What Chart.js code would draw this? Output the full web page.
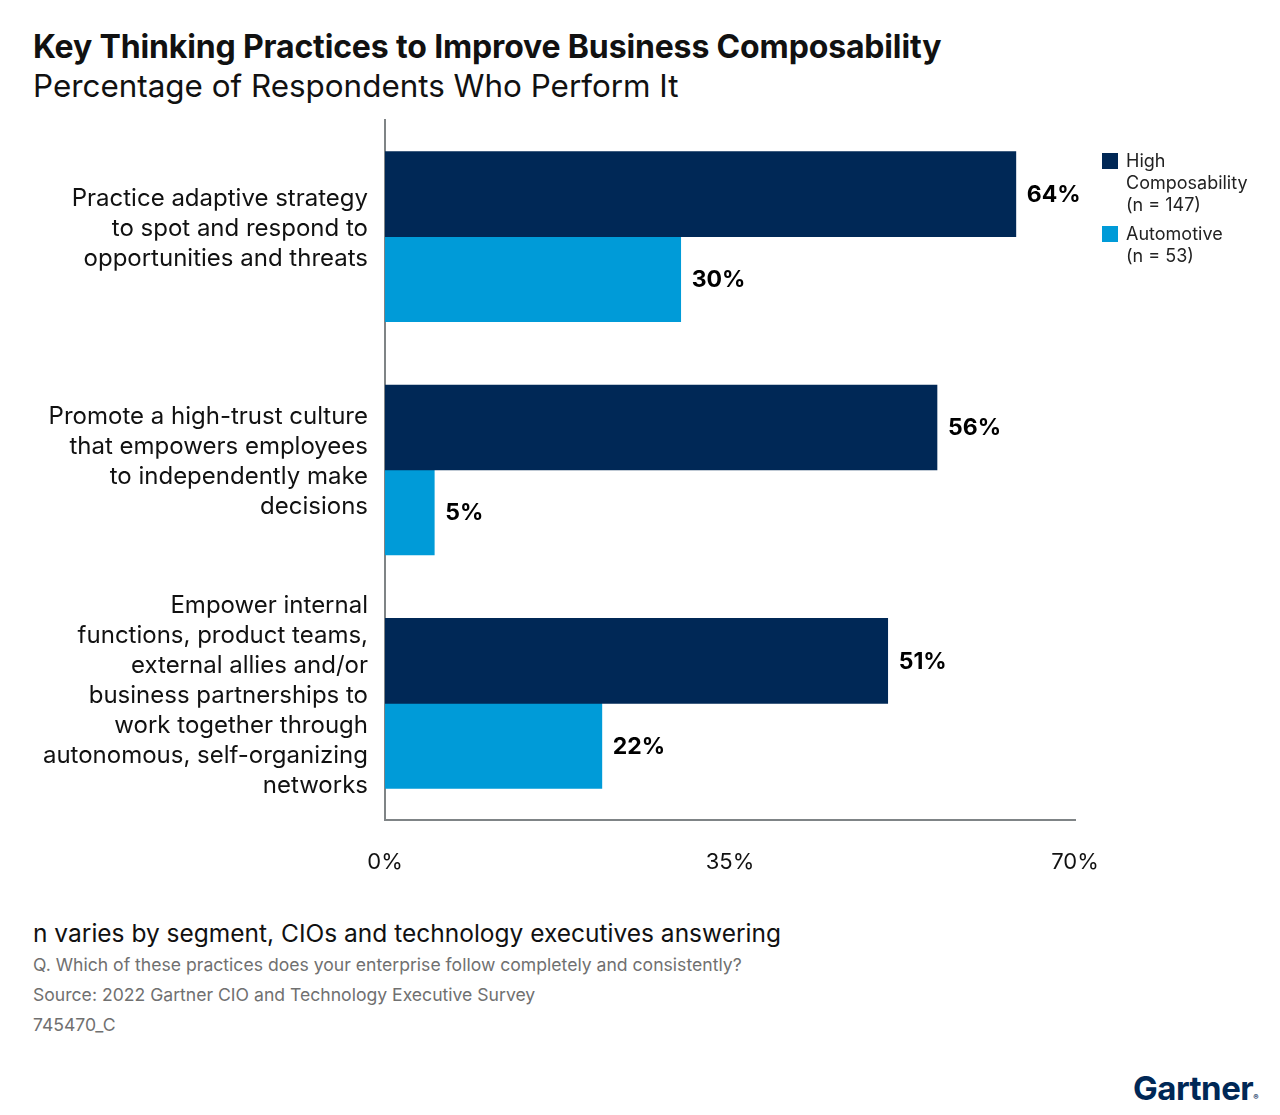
<!DOCTYPE html>
<html>
<head>
<meta charset="utf-8">
<script src="https://cdn.jsdelivr.net/npm/chart.js@4"></script>
<style>
  body { margin: 0; background: #fff; font-family: Inter, "Noto Sans", sans-serif; color: #111; }
  #page { position: relative; width: 1280px; height: 1115px; overflow: hidden; }
  .title { position: absolute; left: 33px; top: 27px; font-size: 32px; font-weight: 700; letter-spacing: -0.15px; }
  .subtitle { position: absolute; left: 33px; top: 67px; font-size: 31.4px; font-weight: 400; }
  #chart-wrap { position: absolute; left: 0; top: 0; width: 1280px; height: 900px; }
  .legend { position: absolute; left: 1102px; top: 150px; font-size: 18px; line-height: 22px; color: #222; }
  .legend .item { position: relative; padding-left: 24px; margin-bottom: 7px; }
  .legend .sw { position: absolute; left: 0; top: 3px; width: 16px; height: 16px; }
  .note { position: absolute; left: 33px; top: 918px; font-size: 24.5px; color: #111; }
  .small { position: absolute; left: 33px; font-size: 17.6px; color: #707070; }
  .logo { position: absolute; left: 1133px; top: 1068px; font-size: 33px; font-weight: 700; color: #002856; letter-spacing: -0.5px; }
  .logo sup { font-size: 8px; vertical-align: 0; }
</style>
</head>
<body>
<div id="page">
  <div class="title">Key Thinking Practices to Improve Business Composability</div>
  <div class="subtitle">Percentage of Respondents Who Perform It</div>
  <div id="chart-wrap"><canvas id="chart" width="1280" height="900"></canvas></div>
  <div class="legend">
    <div class="item"><span class="sw" style="background:#002856"></span>High<br>Composability<br>(n = 147)</div>
    <div class="item"><span class="sw" style="background:#009bd8"></span>Automotive<br>(n = 53)</div>
  </div>
  <div class="note">n varies by segment, CIOs and technology executives answering</div>
  <div class="small" style="top:954px">Q. Which of these practices does your enterprise follow completely and consistently?</div>
  <div class="small" style="top:984px">Source: 2022 Gartner CIO and Technology Executive Survey</div>
  <div class="small" style="top:1014px">745470_C</div>
  <div class="logo">Gartner<sup>®</sup></div>
</div>
<script>
const categories = [
    ['Practice adaptive strategy', 'to spot and respond to', 'opportunities and threats'],
    ['Promote a high-trust culture', 'that empowers employees', 'to independently make', 'decisions'],
    ['Empower internal', 'functions, product teams,', 'external allies and/or', 'business partnerships to', 'work together through', 'autonomous, self-organizing', 'networks']
];
const highComposability = [64, 56, 51];
const automotive = [30, 5, 22];
const xTicks = [0, 35, 70];

const valueLabels = {
    id: 'valueLabels',
    afterDatasetsDraw(chart) {
        const ctx = chart.ctx;
        ctx.save();
        ctx.font = 'bold 23px Inter, "Noto Sans", sans-serif';
        ctx.fillStyle = '#000';
        ctx.textAlign = 'left';
        ctx.textBaseline = 'middle';
        chart.data.datasets.forEach((ds, i) => {
            chart.getDatasetMeta(i).data.forEach((bar, j) => {
                ctx.fillText(ds.data[j] + '%', bar.x + 11, bar.y + 1);
            });
        });
        ctx.restore();
    }
};

new Chart(document.getElementById('chart'), {
    type: 'bar',
    data: {
        labels: categories,
        datasets: [
            { label: 'High Composability (n = 147)', data: highComposability, backgroundColor: '#002856', barThickness: 85 },
            { label: 'Automotive (n = 53)', data: automotive, backgroundColor: '#009bd8', barThickness: 85 }
        ]
    },
    options: {
        indexAxis: 'y',
        responsive: false,
        animation: false,
        layout: { padding: { left: 0, right: 205, top: 120, bottom: 0 } },
        plugins: { legend: { display: false }, tooltip: { enabled: false } },
        scales: {
            x: {
                min: 0,
                max: 70,
                afterBuildTicks(scale) { scale.ticks = xTicks.map(v => ({ value: v })); },
                afterFit(scale) { scale.height = 80; },
                grid: { display: false },
                border: { display: true, color: '#7f8486', width: 2 },
                ticks: {
                    padding: 21,
                    color: '#111',
                    font: { size: 22, family: 'Inter, "Noto Sans", sans-serif' },
                    callback: v => v + '%'
                }
            },
            y: {
                afterFit(scale) { scale.width = 385; },
                grid: { display: false },
                border: { display: true, color: '#7f8486', width: 2 },
                ticks: {
                    padding: 9,
                    labelOffset: -8,
                    color: '#111',
                    font: { size: 24, family: 'Inter, "Noto Sans", sans-serif', lineHeight: 1.25 }
                }
            }
        }
    },
    plugins: [valueLabels]
});
</script>
</body>
</html>
